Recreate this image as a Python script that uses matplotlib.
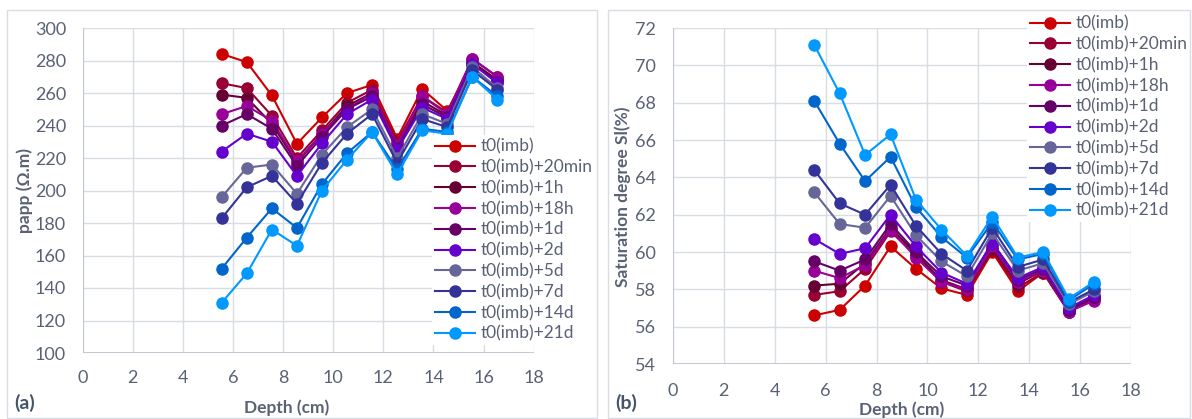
import numpy as np
import matplotlib
matplotlib.use('Agg')
import matplotlib.pyplot as plt
from matplotlib.patches import Rectangle

plt.rcParams['font.family'] = ['Lato', 'DejaVu Sans']

# depth of the measurement points (cm)
depth = [5.55, 6.55, 7.55, 8.55, 9.55, 10.55, 11.55, 12.55, 13.55, 14.55, 15.55, 16.55]

labels = ['t0(imb)', 't0(imb)+20min', 't0(imb)+1h', 't0(imb)+18h', 't0(imb)+1d',
          't0(imb)+2d', 't0(imb)+5d', 't0(imb)+7d', 't0(imb)+14d', 't0(imb)+21d']
colors = ['#CC0000', '#990033', '#660033', '#990099', '#660066',
          '#6600CC', '#666699', '#333399', '#0066CC', '#0099FF']

# (a) apparent resistivity (Ohm.m)
papp_t0    = [284, 279, 258.5, 228.7, 245, 260, 265, 232, 262.5, 249, 278, 268]
papp_20min = [266, 263, 246, 220, 237, 254, 262, 230, 258, 248, 281, 270]
papp_1h    = [259, 257, 241, 217, 235, 252, 260, 228, 255, 246, 279, 268]
papp_18h   = [247, 252, 243, 218, 235, 250, 260, 228, 258, 247, 281, 270]
papp_1d    = [240, 247, 238, 215, 233, 250, 258, 226, 253, 245, 278, 267]
papp_2d    = [224, 235, 230, 209, 229, 247, 256, 225, 251, 244, 278, 266]
papp_5d    = [196, 214, 216, 198, 222, 239, 250, 220, 247, 241, 276, 263]
papp_7d    = [183, 202, 209, 192, 217, 235, 247, 217, 244, 239, 274, 262]
papp_14d   = [152, 171, 189, 177, 204, 223, 236, 213, 238, 236, 270, 258]
papp_21d   = [131, 149, 176, 166, 200, 219, 236, 210, 237, 235, 270, 256]

# (b) saturation degree (%)
sl_t0    = [56.6, 56.9, 58.2, 60.3, 59.1, 58.05, 57.7, 60.0, 57.9, 58.9, 56.8, 57.5]
sl_20min = [57.7, 57.9, 59.1, 61.1, 59.8, 58.4, 57.9, 60.1, 58.1, 58.9, 56.8, 57.5]
sl_1h    = [58.2, 58.3, 59.4, 61.3, 59.9, 58.5, 58.0, 60.2, 58.3, 59.0, 56.9, 57.6]
sl_18h   = [59.0, 58.6, 59.3, 61.2, 59.7, 58.4, 58.0, 60.3, 58.4, 59.0, 56.8, 57.4]
sl_1d    = [59.5, 59.0, 59.6, 61.5, 60.0, 58.7, 58.2, 60.5, 58.5, 59.1, 56.9, 57.6]
sl_2d    = [60.7, 59.9, 60.2, 62.0, 60.3, 58.9, 58.3, 60.5, 58.6, 59.2, 57.0, 57.7]
sl_5d    = [63.2, 61.5, 61.3, 63.0, 60.9, 59.5, 58.7, 61.0, 59.0, 59.4, 57.2, 57.9]
sl_7d    = [64.4, 62.6, 62.0, 63.6, 61.4, 59.9, 59.0, 61.3, 59.2, 59.6, 57.3, 58.0]
sl_14d   = [68.1, 65.8, 63.8, 65.1, 62.4, 60.8, 59.7, 61.6, 59.6, 59.9, 57.4, 58.3]
sl_21d   = [71.1, 68.5, 65.2, 66.3, 62.8, 61.2, 59.8, 61.9, 59.7, 60.0, 57.5, 58.4]

papp = [papp_t0, papp_20min, papp_1h, papp_18h, papp_1d, papp_2d, papp_5d, papp_7d, papp_14d, papp_21d]
sl = [sl_t0, sl_20min, sl_1h, sl_18h, sl_1d, sl_2d, sl_5d, sl_7d, sl_14d, sl_21d]

txt = '#596275'
grid = '#D9DDE3'
W, H = 1192, 419

fig = plt.figure(figsize=(11.92, 4.19), dpi=100)

# panel frames
fig.patches.append(Rectangle((7/W, 0.002), 590/W, 1-10/H-0.002, transform=fig.transFigure,
                             fill=False, edgecolor=grid, lw=1))
fig.patches.append(Rectangle((608/W, 0.002), 582/W, 1-10/H-0.002, transform=fig.transFigure,
                             fill=False, edgecolor=grid, lw=1))

ax1 = fig.add_axes([82.7/W, 1-353/H, 451/W, 325/H])
ax2 = fig.add_axes([673/W, 1-364/H, 458/W, 336/H])


def style(ax, ylim, ystep, xpad, ypad):
    ax.set_xlim(0, 18)
    ax.set_ylim(*ylim)
    ax.set_xticks(np.arange(0, 19, 2))
    ax.set_yticks(np.arange(ylim[0], ylim[1] + 0.1, ystep))
    ax.grid(True, color=grid, lw=1)
    ax.set_axisbelow(True)
    for s in ax.spines.values():
        s.set_visible(False)
    ax.tick_params(length=0, labelsize=13, labelcolor=txt)
    ax.tick_params(axis='x', pad=xpad)
    ax.tick_params(axis='y', pad=ypad)
    ax.axhline(ylim[0], color='#BFC5CF', lw=1.3, zorder=1)
    ax.axvline(0, color='#BFC5CF', lw=1.3, zorder=1)


style(ax1, (100, 300), 20, 12, 12)
style(ax2, (54, 72), 2, 14, 12)

for i in range(len(labels)):
    ax1.plot(depth, papp[i], color=colors[i], lw=1.5, marker='o', ms=8, label=labels[i])
    ax2.plot(depth, sl[i], color=colors[i], lw=1.5, marker='o', ms=8, label=labels[i])

leg_kw = dict(loc='upper left', bbox_transform=fig.transFigure, frameon=True, fancybox=False,
              edgecolor='none', facecolor='white', framealpha=1, fontsize=12.5,
              labelcolor=txt, handlelength=2.3, handletextpad=0.3, labelspacing=0.27,
              borderpad=0.2, borderaxespad=0)
l1 = ax1.legend(bbox_to_anchor=(432/W, 1-135/H), **leg_kw)
l2 = ax2.legend(bbox_to_anchor=(1027/W, 1-12/H), **leg_kw)
for l in (l1, l2):
    l.set_zorder(5)

fig.text(287/W, 1-408/H, 'Depth (cm)', ha='center', va='center', fontsize=12.5,
         fontweight='bold', color=txt)
fig.text(902/W, 1-410/H, 'Depth (cm)', ha='center', va='center', fontsize=12.5,
         fontweight='bold', color=txt)
fig.text(25/W, 1-190/H, 'papp (Ω.m)', ha='center', va='center', rotation=90,
         fontsize=12.5, fontweight='bold', color=txt)
fig.text(623/W, 1-197/H, 'Saturation degree Sl(%)', ha='center', va='center', rotation=90,
         fontsize=12.5, fontweight='bold', color=txt)
fig.text(14/W, 1-403/H, '(a)', ha='left', va='center', fontsize=14, fontweight='bold', color='#44546A')
fig.text(615/W, 1-403/H, '(b)', ha='left', va='center', fontsize=14, fontweight='bold', color='#44546A')

fig.savefig('out.png', dpi=100)
